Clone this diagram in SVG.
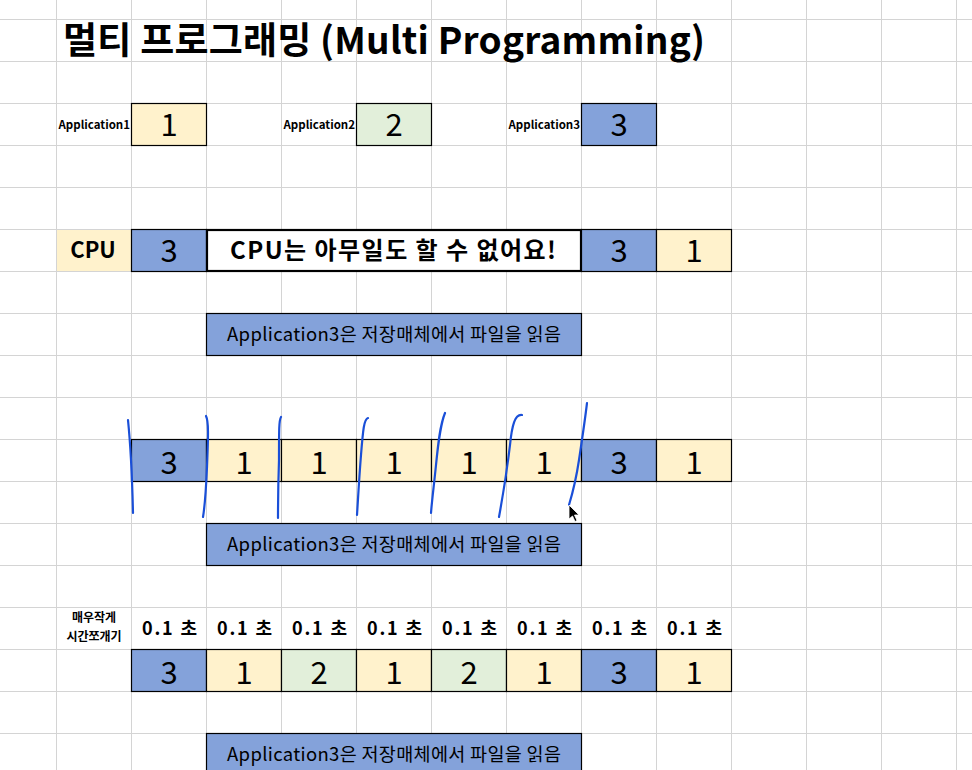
<svg xmlns="http://www.w3.org/2000/svg" width="972" height="770" viewBox="0 0 972 770">
<defs>
<style>
.grid line{stroke:#d4d4d4;stroke-width:1}
.box{stroke:#000;stroke-width:1.2}
.y{fill:#fff2cc}.g{fill:#e2efda}.b{fill:#84a2da}.w{fill:#fff}
text{font-family:"Noto Sans CJK KR","Noto Sans",sans-serif;fill:#000}
.num{font-size:31px;text-anchor:middle;font-weight:400}
.lbl{font-size:11.5px;font-weight:700;text-anchor:end}
.read{font-size:18.5px;text-anchor:middle}
.sec{font-size:18px;font-weight:700;text-anchor:middle}
.pen{fill:none;stroke:#1a4fd8;stroke-width:2.2;stroke-linecap:round;stroke-linejoin:round}
</style>
</defs>
<rect width="972" height="770" fill="#fff"/>
<g class="grid">
<line x1="56.5" y1="0" x2="56.5" y2="770"/><line x1="131.5" y1="0" x2="131.5" y2="770"/><line x1="206.5" y1="0" x2="206.5" y2="770"/><line x1="281.5" y1="0" x2="281.5" y2="770"/><line x1="356.5" y1="0" x2="356.5" y2="770"/><line x1="431.5" y1="0" x2="431.5" y2="770"/><line x1="506.5" y1="0" x2="506.5" y2="770"/><line x1="581.5" y1="0" x2="581.5" y2="770"/><line x1="656.5" y1="0" x2="656.5" y2="770"/><line x1="731.5" y1="0" x2="731.5" y2="770"/><line x1="806.5" y1="0" x2="806.5" y2="770"/><line x1="881.5" y1="0" x2="881.5" y2="770"/><line x1="956.5" y1="0" x2="956.5" y2="770"/>
<line x1="0" y1="19.5" x2="972" y2="19.5"/><line x1="0" y1="61.5" x2="972" y2="61.5"/><line x1="0" y1="103.5" x2="972" y2="103.5"/><line x1="0" y1="145.5" x2="972" y2="145.5"/><line x1="0" y1="187.5" x2="972" y2="187.5"/><line x1="0" y1="229.5" x2="972" y2="229.5"/><line x1="0" y1="271.5" x2="972" y2="271.5"/><line x1="0" y1="313.5" x2="972" y2="313.5"/><line x1="0" y1="355.5" x2="972" y2="355.5"/><line x1="0" y1="397.5" x2="972" y2="397.5"/><line x1="0" y1="439.5" x2="972" y2="439.5"/><line x1="0" y1="481.5" x2="972" y2="481.5"/><line x1="0" y1="523.5" x2="972" y2="523.5"/><line x1="0" y1="565.5" x2="972" y2="565.5"/><line x1="0" y1="607.5" x2="972" y2="607.5"/><line x1="0" y1="649.5" x2="972" y2="649.5"/><line x1="0" y1="691.5" x2="972" y2="691.5"/><line x1="0" y1="733.5" x2="972" y2="733.5"/>
</g>

<g id="title"><text x="63" y="54" font-size="37" font-weight="700" textLength="642" lengthAdjust="spacing">멀티 프로그래밍 (Multi Programming)</text></g>

<g id="app1"><text class="lbl" x="130" y="129">Application1</text><rect class="box y" x="131.5" y="103.5" width="75" height="42"/><text class="num" x="169" y="136">1</text></g>
<g id="app2"><text class="lbl" x="355" y="129">Application2</text><rect class="box g" x="356.5" y="103.5" width="75" height="42"/><text class="num" x="394" y="136">2</text></g>
<g id="app3"><text class="lbl" x="580" y="129">Application3</text><rect class="box b" x="581.5" y="103.5" width="75" height="42"/><text class="num" x="619" y="136">3</text></g>

<g id="cpu-label"><rect class="y" x="57" y="230" width="74" height="41"/><text x="93" y="258" font-size="22" font-weight="700" text-anchor="middle">CPU</text></g>
<g id="cpu-row">
<rect class="box b" x="131.5" y="229.5" width="75" height="42"/><text class="num" x="169" y="262">3</text>
<rect x="207" y="230" width="374" height="41" fill="#fff" stroke="#000" stroke-width="2.2"/><text x="230" y="259" font-size="24" font-weight="700" textLength="326" lengthAdjust="spacing">CPU는 아무일도 할 수 없어요!</text>
<rect class="box b" x="581.5" y="229.5" width="75" height="42"/><text class="num" x="619" y="262">3</text>
<rect class="box y" x="656.5" y="229.5" width="75" height="42"/><text class="num" x="694" y="262">1</text>
</g>
<g id="read1"><rect class="box b" x="206.5" y="313.5" width="375" height="42"/><text class="read" x="394" y="341" textLength="334" lengthAdjust="spacing">Application3은 저장매체에서 파일을 읽음</text></g>

<g id="slice-row">
<rect class="box b" x="131.5" y="439.5" width="75" height="42"/><text class="num" x="169" y="474">3</text>
<rect class="box y" x="206.5" y="439.5" width="75" height="42"/><text class="num" x="244" y="474">1</text>
<rect class="box y" x="281.5" y="439.5" width="75" height="42"/><text class="num" x="319" y="474">1</text>
<rect class="box y" x="356.5" y="439.5" width="75" height="42"/><text class="num" x="394" y="474">1</text>
<rect class="box y" x="431.5" y="439.5" width="75" height="42"/><text class="num" x="469" y="474">1</text>
<rect class="box y" x="506.5" y="439.5" width="75" height="42"/><text class="num" x="544" y="474">1</text>
<rect class="box b" x="581.5" y="439.5" width="75" height="42"/><text class="num" x="619" y="474">3</text>
<rect class="box y" x="656.5" y="439.5" width="75" height="42"/><text class="num" x="694" y="474">1</text>
</g>
<g id="read2"><rect class="box b" x="206.5" y="523.5" width="375" height="42"/><text class="read" x="394" y="551" textLength="334" lengthAdjust="spacing">Application3은 저장매체에서 파일을 읽음</text></g>

<g id="handwriting">
<path class="pen" d="M128,420 C130,440 132,470 133,513"/>
<path class="pen" d="M206,416 C209,422 208,440 207,467 C206,490 205,505 203,517"/>
<path class="pen" d="M281,417 C279,420 279,430 279,460 C278,490 278,505 278,518"/>
<path class="pen" d="M368,418 C364,419 363,430 361,455 C359,480 358,500 357,515"/>
<path class="pen" d="M445,413 C440,425 438,445 436,465 C434,485 432,500 431,513"/>
<path class="pen" d="M522,415 C515,414 512,425 510,445 C507,470 503,495 499,517"/>
<path class="pen" d="M587,403 C585,420 582,440 579,460 C576,480 572,495 569,505"/>
<path d="M569,505 L569,519 L572.5,516 L575,521.5 L577,520.5 L574.5,515 L579,515 Z" fill="#000" stroke="#fff" stroke-width="0.8"/>
</g>

<g id="time-label"><text x="94" y="622" font-size="12" font-weight="700" text-anchor="middle">매우작게</text><text x="94" y="641" font-size="12" font-weight="700" text-anchor="middle">시간쪼개기</text></g>
<g id="time-slices">
<text class="sec" x="169.5" y="635" textLength="55" lengthAdjust="spacing">0.1 초</text><text class="sec" x="244.5" y="635" textLength="55" lengthAdjust="spacing">0.1 초</text><text class="sec" x="319.5" y="635" textLength="55" lengthAdjust="spacing">0.1 초</text><text class="sec" x="394.5" y="635" textLength="55" lengthAdjust="spacing">0.1 초</text><text class="sec" x="469.5" y="635" textLength="55" lengthAdjust="spacing">0.1 초</text><text class="sec" x="544.5" y="635" textLength="55" lengthAdjust="spacing">0.1 초</text><text class="sec" x="619.5" y="635" textLength="55" lengthAdjust="spacing">0.1 초</text><text class="sec" x="694.5" y="635" textLength="55" lengthAdjust="spacing">0.1 초</text>
</g>
<g id="schedule-row">
<rect class="box b" x="131.5" y="649.5" width="75" height="42"/><text class="num" x="169" y="684">3</text>
<rect class="box y" x="206.5" y="649.5" width="75" height="42"/><text class="num" x="244" y="684">1</text>
<rect class="box g" x="281.5" y="649.5" width="75" height="42"/><text class="num" x="319" y="684">2</text>
<rect class="box y" x="356.5" y="649.5" width="75" height="42"/><text class="num" x="394" y="684">1</text>
<rect class="box g" x="431.5" y="649.5" width="75" height="42"/><text class="num" x="469" y="684">2</text>
<rect class="box y" x="506.5" y="649.5" width="75" height="42"/><text class="num" x="544" y="684">1</text>
<rect class="box b" x="581.5" y="649.5" width="75" height="42"/><text class="num" x="619" y="684">3</text>
<rect class="box y" x="656.5" y="649.5" width="75" height="42"/><text class="num" x="694" y="684">1</text>
</g>
<g id="read3"><rect class="box b" x="206.5" y="733.5" width="375" height="42"/><text class="read" x="394" y="761" textLength="334" lengthAdjust="spacing">Application3은 저장매체에서 파일을 읽음</text></g>
</svg>
